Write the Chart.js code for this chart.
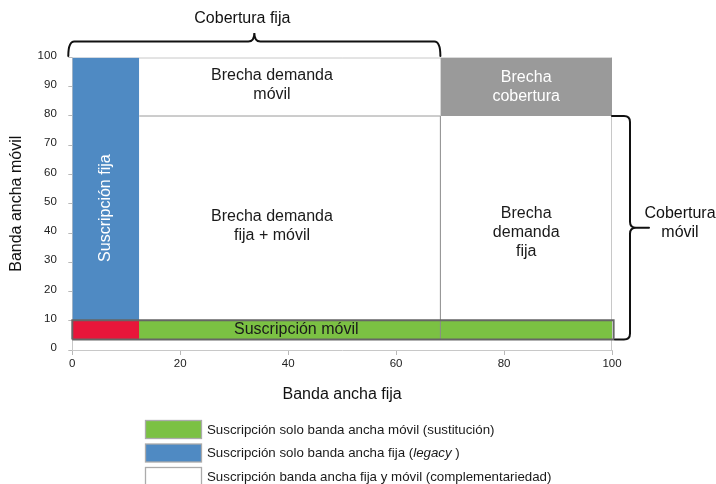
<!DOCTYPE html>
<html>
<head>
<meta charset="utf-8">
<script src="https://cdn.jsdelivr.net/npm/chart.js@4.4.1/dist/chart.umd.min.js"></script>
<style>
  html, body { margin: 0; padding: 0; background: #ffffff; }
  #wrap { width: 716px; height: 484px; position: relative; }
</style>
</head>
<body>
<div id="wrap"><canvas id="c" width="716" height="484"></canvas></div>
<script>
// ---------------- DATA ----------------
const xTickValues = [0, 20, 40, 60, 80, 100];
const yTickValues = [0, 10, 20, 30, 40, 50, 60, 70, 80, 90, 100];
const xAxisTitle = 'Banda ancha fija';
const yAxisTitle = 'Banda ancha móvil';

// key boundaries (% of population)
const fixedOnlyShare = 12.4;      // fixed-only subscription (x)
const fixedCoverage = 68.2;       // fixed coverage (x)
const mobileCoverage = 80;        // mobile coverage (y)
const mobileSubBand = [3.6, 10.2]; // mobile subscription band (y)

// filled regions
const regionNames = ['Suscripción fija', 'Brecha cobertura', 'Suscripción móvil (legacy)', 'Suscripción móvil'];
const regionX0 = [0, 68.2, 0, 0];
const regionX1 = [12.4, 100, 12.4, 100.3];
const regionY0 = [10.2, 80, 3.6, 3.6];
const regionY1 = [100, 100, 10.2, 10.2];

// text labels inside the plot
const labelLines = [['Brecha demanda', 'móvil'], ['Brecha demanda', 'fija + móvil'], ['Brecha', 'demanda', 'fija'], ['Brecha', 'cobertura'], ['Suscripción fija'], ['Suscripción móvil']];
const labelX = [37.0, 37.0, 84.1, 84.1, 6.1, 41.5];
const labelY = [90.4, 42.3, 40.3, 90.0, 48.5, 6.9];

const braceTopLabel = 'Cobertura fija';
const braceRightLabel = ['Cobertura', 'móvil'];

const legendLabels = [
  [['Suscripción solo banda ancha móvil (sustitución)', false]],
  [['Suscripción solo banda ancha fija (', false], ['legacy', true], [' )', false]],
  [['Suscripción banda ancha fija y móvil (complementariedad)', false]]
];

// ---------------- STYLES ----------------
const FONT = '"Liberation Sans", Arial, Helvetica, sans-serif';
const regionColors = ['#4F8AC3', '#9A9A9A', '#E8163A', '#7BC143'];
const regionOrder = [10, 10, 8, 9];
const labelColors = ['#1a1a1a', '#1a1a1a', '#1a1a1a', '#ffffff', '#ffffff', '#1a1a1a'];
const labelRotated = [false, false, false, false, true, false];
const legendColors = ['#7BC143', '#4F8AC3', '#ffffff'];

// ---------------- DATASETS ----------------
const datasets = [];
regionNames.forEach((name, i) => {
  datasets.push({
    label: name,
    data: [{ x: regionX0[i], y: regionY1[i] }, { x: regionX1[i], y: regionY1[i] }],
    showLine: true,
    fill: { value: regionY0[i] },
    backgroundColor: regionColors[i],
    borderColor: 'rgba(0,0,0,0)',
    borderWidth: 0,
    pointRadius: 0,
    order: regionOrder[i],
    clip: false
  });
});
// mobile-coverage line (y = 80) across the complementary area
datasets.push({
  label: 'Cobertura móvil',
  data: [{ x: fixedOnlyShare, y: mobileCoverage }, { x: fixedCoverage, y: mobileCoverage }],
  showLine: true, fill: false, borderColor: '#9a9a9a', borderWidth: 1, pointRadius: 0, order: 5
});
// fixed-coverage line (x = 68.2)
datasets.push({
  label: 'Cobertura fija',
  data: [{ x: fixedCoverage, y: mobileSubBand[0] }, { x: fixedCoverage, y: mobileCoverage }],
  showLine: true, fill: false, borderColor: '#8a8a8a', borderWidth: 1, pointRadius: 0, order: 5
});
// outline of the mobile subscription band
datasets.push({
  label: 'Suscripción móvil (borde)',
  data: [
    { x: 0, y: mobileSubBand[0] }, { x: regionX1[3], y: mobileSubBand[0] },
    { x: regionX1[3], y: mobileSubBand[1] }, { x: 0, y: mobileSubBand[1] }, { x: 0, y: mobileSubBand[0] }
  ],
  showLine: true, fill: false, borderColor: '#666666', borderWidth: 2, pointRadius: 0,
  borderJoinStyle: 'miter', order: 1, clip: false
});

// ---------------- PLUGIN (borders, texts, braces, legend) ----------------
const annotationPlugin = {
  id: 'annotations',
  beforeDatasetsDraw(chart) {
    const { ctx, chartArea: a } = chart;
    ctx.save();
    ctx.strokeStyle = '#c8c8c8';
    ctx.lineWidth = 1;
    ctx.beginPath();
    ctx.moveTo(a.left, a.top + 0.5); ctx.lineTo(a.right, a.top + 0.5);
    ctx.moveTo(a.right - 0.5, a.top); ctx.lineTo(a.right - 0.5, a.bottom);
    ctx.stroke();
    ctx.restore();
  },
  afterDraw(chart) {
    const { ctx, chartArea: a } = chart;
    const sx = chart.scales.x, sy = chart.scales.y;
    ctx.save();
    // texts inside plot
    ctx.font = '16px ' + FONT;
    ctx.textAlign = 'center';
    ctx.textBaseline = 'middle';
    const lh = 19;
    labelLines.forEach((lines, i) => {
      const cx = sx.getPixelForValue(labelX[i]);
      const cy = sy.getPixelForValue(labelY[i]);
      ctx.fillStyle = labelColors[i];
      ctx.save();
      ctx.translate(cx, cy);
      if (labelRotated[i]) ctx.rotate(-Math.PI / 2);
      lines.forEach((t, k) => {
        ctx.fillText(t, 0, (k - (lines.length - 1) / 2) * lh);
      });
      ctx.restore();
    });

    // top brace (fixed coverage)
    ctx.strokeStyle = '#111';
    ctx.lineWidth = 2;
    ctx.lineCap = 'round';
    const xl = sx.getPixelForValue(0) - 4;
    const xr = sx.getPixelForValue(fixedCoverage);
    const xt = (xl + xr) / 2;
    const yb = a.top - 1.5, ym = a.top - 16, yt = a.top - 24.5;
    ctx.beginPath();
    ctx.moveTo(xl, yb);
    ctx.quadraticCurveTo(xl, ym, xl + 6, ym);
    ctx.lineTo(xt - 6, ym);
    ctx.quadraticCurveTo(xt, ym, xt, yt);
    ctx.quadraticCurveTo(xt, ym, xt + 6, ym);
    ctx.lineTo(xr - 6, ym);
    ctx.quadraticCurveTo(xr, ym, xr, yb);
    ctx.stroke();
    ctx.fillStyle = '#111';
    ctx.fillText(braceTopLabel, xt - 12, 19);

    // right brace (mobile coverage)
    const xs = sx.getPixelForValue(100);
    const yTop = sy.getPixelForValue(mobileCoverage);
    const yBot = sy.getPixelForValue(mobileSubBand[0]);
    const xv = xs + 18;
    const ytip = (yTop + yBot) / 2;
    const xtip = xv + 19;
    ctx.beginPath();
    ctx.moveTo(xs, yTop);
    ctx.lineTo(xv - 6, yTop);
    ctx.quadraticCurveTo(xv, yTop, xv, yTop + 6);
    ctx.lineTo(xv, ytip - 6);
    ctx.quadraticCurveTo(xv, ytip, xv + 6, ytip);
    ctx.lineTo(xtip, ytip);
    ctx.moveTo(xv + 6, ytip);
    ctx.quadraticCurveTo(xv, ytip, xv, ytip + 6);
    ctx.lineTo(xv, yBot - 6);
    ctx.quadraticCurveTo(xv, yBot, xv - 6, yBot);
    ctx.lineTo(xs + 3, yBot);
    ctx.stroke();
    ctx.fillText(braceRightLabel[0], xtip + 31, ytip - 14.5);
    ctx.fillText(braceRightLabel[1], xtip + 31, ytip + 5);

    // legend
    ctx.textAlign = 'left';
    legendLabels.forEach((parts, i) => {
      const by = 420.5 + i * 23.5;
      ctx.fillStyle = legendColors[i];
      ctx.fillRect(145.5, by, 56, 18);
      ctx.strokeStyle = '#ababab';
      ctx.lineWidth = 1.3;
      ctx.strokeRect(145.5, by, 56, 18);
      let tx = 207;
      ctx.fillStyle = '#1a1a1a';
      parts.forEach(([t, italic]) => {
        ctx.font = (italic ? 'italic ' : '') + '13.3px ' + FONT;
        ctx.fillText(t, tx, by + 9.5);
        tx += ctx.measureText(t).width;
      });
    });
    ctx.restore();
  }
};

// ---------------- CHART ----------------
new Chart(document.getElementById('c'), {
  type: 'scatter',
  data: { datasets },
  options: {
    responsive: false,
    animation: false,
    events: [],
    layout: { padding: { left: 0, top: 57.5, right: 104, bottom: 74 } },
    plugins: { legend: { display: false }, tooltip: { enabled: false } },
    scales: {
      x: {
        type: 'linear', min: 0, max: 100,
        afterBuildTicks: s => { s.ticks = xTickValues.map(v => ({ value: v })); },
        afterFit: s => { s.height = 60; },
        grid: { drawOnChartArea: false, drawTicks: true, tickLength: 5, color: '#b8b8b8' },
        border: { display: true, color: '#c8c8c8', width: 1 },
        ticks: { font: { family: FONT, size: 11.5 }, color: '#222', padding: 2, maxRotation: 0, autoSkip: false },
        title: { display: true, text: xAxisTitle, font: { family: FONT, size: 16 }, color: '#111', padding: { top: 0, bottom: 6 } }
      },
      y: {
        type: 'linear', min: 0, max: 100,
        afterBuildTicks: s => { s.ticks = yTickValues.map(v => ({ value: v })); },
        afterFit: s => { s.width = 72.3; },
        grid: { drawOnChartArea: false, drawTicks: true, tickLength: 4, color: '#b8b8b8' },
        border: { display: true, color: '#c8c8c8', width: 1 },
        ticks: { font: { family: FONT, size: 11.5 }, color: '#222', padding: 11.5, labelOffset: -2, autoSkip: false },
        title: { display: true, text: yAxisTitle, font: { family: FONT, size: 16 }, color: '#111', padding: { top: 6.7, bottom: 0 } }
      }
    }
  },
  plugins: [annotationPlugin]
});
</script>
</body>
</html>
